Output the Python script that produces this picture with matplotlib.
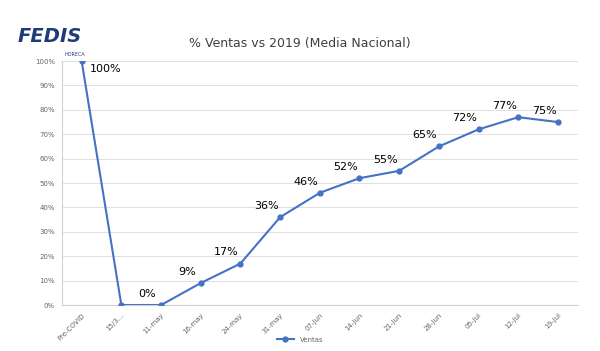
import matplotlib.pyplot as plt
import numpy as np

# data
cats = ['Pre-COVID', '15/3...', '11-may', '16-may', '24-may', '31-may', '07-jun',
        '14-jun', '21-jun', '28-jun', '05-jul', '12-jul', '19-jul']
ventas = [100, 0, 0, 9, 17, 36, 46, 52, 55, 65, 72, 77, 75]
labels = ['100%', None, '0%', '9%', '17%', '36%', '46%', '52%', '55%', '65%', '72%', '77%', '75%']

blue = '#4472C4'

fig = plt.figure(figsize=(6, 3.51), dpi=100)
ax = fig.add_axes([0.103, 0.131, 0.86, 0.695])

x = np.arange(len(cats))
ax.plot(x, ventas, color=blue, lw=1.5, marker='o', ms=3.5, label='Ventas', zorder=3)

# data labels (mostly above-left of points)
for i, (v, lab) in enumerate(zip(ventas, labels)):
    if lab is None:
        continue
    if i == 0:
        ax.annotate(lab, (i, v), xytext=(6, -6), textcoords='offset points',
                    fontsize=8, ha='left', va='center')
    else:
        ax.annotate(lab, (i, v), xytext=(-10, 8), textcoords='offset points',
                    fontsize=8, ha='center', va='center')

ax.set_xlim(-0.5, len(cats) - 0.5)
ax.set_ylim(0, 100)
ax.set_yticks(np.arange(0, 101, 10))
ax.set_yticklabels(['%d%%' % t for t in range(0, 101, 10)])
ax.set_xticks(x)
ax.set_xticklabels(cats, rotation=45, ha='right', rotation_mode='anchor')
ax.tick_params(axis='both', labelsize=5, colors='#666666', length=0, pad=5)
ax.grid(axis='y', color='#e0e0e0', lw=0.7)
ax.set_axisbelow(True)
for s in ['top', 'right']:
    ax.spines[s].set_visible(False)
ax.spines['left'].set_color('#d0d0d0')
ax.spines['bottom'].set_color('#d0d0d0')

fig.text(0.5, 0.875, '% Ventas vs 2019 (Media Nacional)', ha='center', va='center',
         fontsize=9, color='#404040')

# logo
fig.text(0.03, 0.895, 'FEDIS', fontsize=14, fontweight='bold', style='italic',
         color='#1f3c78', ha='left', va='center')
fig.text(0.107, 0.845, 'HORECA', fontsize=3.5, color='#1f3c78', ha='left', va='center')

leg = fig.legend(loc='center', bbox_to_anchor=(0.5, 0.032), frameon=False,
                 fontsize=5, handlelength=2.5, labelcolor='#666666')

fig.savefig('out.png', dpi=100)
